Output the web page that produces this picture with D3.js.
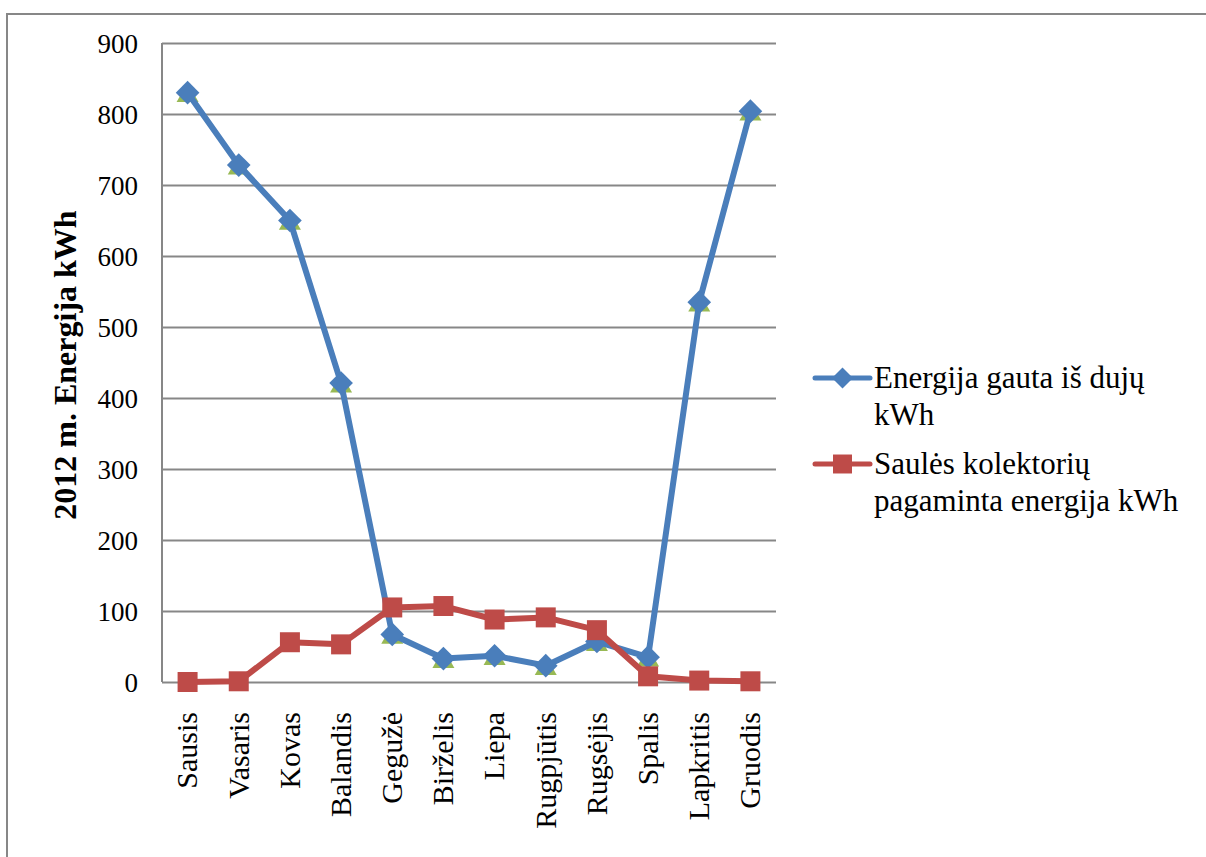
<!DOCTYPE html>
<html>
<head>
<meta charset="utf-8">
<script src="https://cdn.jsdelivr.net/npm/d3@7"></script>
<style>
  body { margin: 0; background: #fff; }
  svg text { font-family: "Liberation Serif", "Times New Roman", serif; }
</style>
</head>
<body>
<svg id="chart" width="1206" height="857"></svg>
<script>
// Months (Lithuanian)
const months = ["Sausis", "Vasaris", "Kovas", "Balandis", "Gegužė", "Birželis",
  "Liepa", "Rugpjūtis", "Rugsėjis", "Spalis", "Lapkritis", "Gruodis"];

// Energy from gas, kWh
const gasEnergy = [830, 728, 650, 421, 67, 33, 37, 23, 57, 35, 535, 804];
// Solar collector energy, kWh
const solarEnergy = [0, 1, 56, 53, 105, 107, 88, 91, 73, 8, 2, 1];
// hidden third series (only its triangle markers peek out under the diamonds)
const thirdSeries = [830, 728, 650, 421, 67, 33, 37, 23, 57, 35, 535, 804];

const yTicks = [0, 100, 200, 300, 400, 500, 600, 700, 800, 900];

const legendLabels = [
  ["Energija gauta iš dujų", "kWh"],
  ["Saulės kolektorių", "pagaminta energija kWh"]
];

const BLUE = "#4a7ebb";
const RED = "#be4b48";
const GREEN = "#98b954";
const GRID = "#878787";

const svg = d3.select("#chart");

// outer chart border (runs off the right and bottom of the picture)
svg.append("rect")
  .attr("x", 7).attr("y", 14)
  .attr("width", 1300).attr("height", 1000)
  .attr("fill", "none")
  .attr("stroke", GRID)
  .attr("stroke-width", 2);

const plot = { left: 162, right: 776, top: 43, bottom: 682 };

const x = d3.scaleBand().domain(months).range([plot.left, plot.right]);
const y = d3.scaleLinear().domain([0, 900]).range([plot.bottom, plot.top]);
const cx = (m) => x(m) + x.bandwidth() / 2;

// gridlines + y axis labels
svg.append("g")
  .attr("transform", `translate(${plot.left},0)`)
  .call(d3.axisLeft(y).tickValues(yTicks).tickSize(-(plot.right - plot.left)).tickPadding(24))
  .call((g) => {
    g.select(".domain").remove();
    g.selectAll(".tick line").attr("stroke", GRID).attr("stroke-width", 2);
    g.selectAll(".tick text")
      .attr("font-size", "27px")
      .attr("fill", "#000")
      .attr("dy", "0.34em");
  });

// left axis line
svg.append("line")
  .attr("x1", plot.left).attr("x2", plot.left)
  .attr("y1", plot.top).attr("y2", plot.bottom)
  .attr("stroke", GRID).attr("stroke-width", 2);

// category labels (rotated)
svg.append("g")
  .selectAll("text")
  .data(months)
  .join("text")
  .attr("transform", (d) => `translate(${cx(d)},712) rotate(-90)`)
  .attr("text-anchor", "end")
  .attr("dy", "0.33em")
  .attr("font-size", "30px")
  .text((d) => d);

// y axis title
svg.append("text")
  .attr("transform", `translate(65,365) rotate(-90)`)
  .attr("text-anchor", "middle")
  .attr("dy", "0.35em")
  .attr("font-size", "32px")
  .attr("font-weight", "bold")
  .text("2012 m. Energija kWh");

const line = d3.line()
  .x((d, i) => cx(months[i]))
  .y((d) => y(d));

const triangle = d3.symbol(d3.symbolTriangle, 210);
const diamond = d3.symbol(d3.symbolSquare, 280);
const square = d3.symbol(d3.symbolSquare, 400);

// third series markers (green triangles)
svg.append("g")
  .selectAll("path")
  .data(thirdSeries)
  .join("path")
  .attr("d", triangle)
  .attr("transform", (d, i) => `translate(${cx(months[i])},${y(d) + 3})`)
  .attr("fill", GREEN);

// gas series
svg.append("path")
  .datum(gasEnergy)
  .attr("d", line)
  .attr("fill", "none")
  .attr("stroke", BLUE)
  .attr("stroke-width", 6)
  .attr("stroke-linejoin", "round");

svg.append("g")
  .selectAll("path")
  .data(gasEnergy)
  .join("path")
  .attr("d", diamond)
  .attr("transform", (d, i) => `translate(${cx(months[i])},${y(d)}) rotate(45)`)
  .attr("fill", BLUE);

// solar series
svg.append("path")
  .datum(solarEnergy)
  .attr("d", line)
  .attr("fill", "none")
  .attr("stroke", RED)
  .attr("stroke-width", 6)
  .attr("stroke-linejoin", "round");

svg.append("g")
  .selectAll("path")
  .data(solarEnergy)
  .join("path")
  .attr("d", square)
  .attr("transform", (d, i) => `translate(${cx(months[i])},${y(d)})`)
  .attr("fill", RED);

// legend
const legend = svg.append("g").attr("transform", "translate(815,378)");
const legendColors = [BLUE, RED];
const legendSymbols = [d3.symbol(d3.symbolSquare, 220), d3.symbol(d3.symbolSquare, 360)];

legendLabels.forEach((lines, i) => {
  const g = legend.append("g").attr("transform", `translate(0,${i * 86})`);
  g.append("line")
    .attr("x1", 0).attr("x2", 55)
    .attr("stroke", legendColors[i])
    .attr("stroke-width", 5)
    .attr("stroke-linecap", "round");
  g.append("path")
    .attr("d", legendSymbols[i])
    .attr("transform", `translate(27.5,0)${i === 0 ? " rotate(45)" : ""}`)
    .attr("fill", legendColors[i]);
  const t = g.append("text")
    .attr("x", 59)
    .attr("y", 10)
    .attr("font-size", "31px");
  lines.forEach((s, j) => {
    t.append("tspan")
      .attr("x", 59)
      .attr("dy", j === 0 ? 0 : 37)
      .text(s);
  });
});
</script>
</body>
</html>
